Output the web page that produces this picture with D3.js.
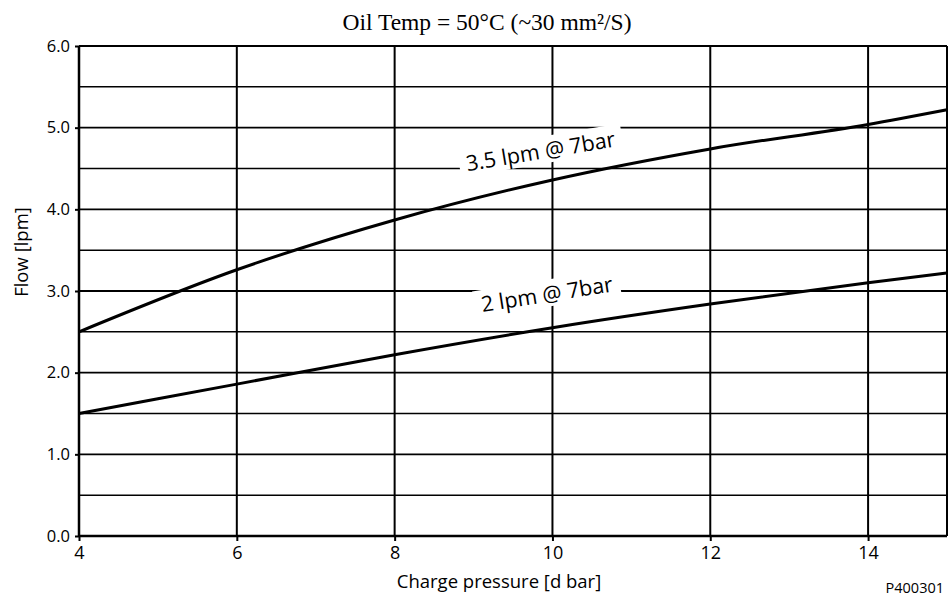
<!DOCTYPE html>
<html>
<head>
<meta charset="utf-8">
<script src="https://cdn.jsdelivr.net/npm/d3@7"></script>
<style>
  body { margin: 0; background: #fff; }
  text { fill: #000; }
</style>
</head>
<body>
<svg></svg>
<script>
// charge pressure [d bar]
let pressure = [4, 6, 8, 10, 12, 14, 15];
// flow [lpm] for the two orifice sizes
let flowHigh = [2.5, 3.26, 3.87, 4.36, 4.74, 5.04, 5.22];
let flowLow = [1.5, 1.86, 2.22, 2.55, 2.84, 3.10, 3.22];

let xTicks = [4, 6, 8, 10, 12, 14];
let yTicks = [0, 1, 2, 3, 4, 5, 6];
let yMinor = [0.5, 1.5, 2.5, 3.5, 4.5, 5.5];

let curveLabels = [
  {text: "3.5 lpm @ 7bar", x: 9.85, y: 4.71, angle: -9.5},
  {text: "2 lpm @ 7bar", x: 9.93, y: 2.96, angle: -9}
];

let margin = {top: 46, right: 3, bottom: 60, left: 79};
let width = 950 - margin.left - margin.right;
let height = 596 - margin.top - margin.bottom;

let svg = d3.select("svg")
  .attr("width", 950)
  .attr("height", 596);

let g = svg.append("g")
  .attr("transform", `translate(${margin.left}, ${margin.top})`);

let xScale = d3.scaleLinear().domain([4, 15]).range([0, width]);
let yScale = d3.scaleLinear().domain([0, 6]).range([height, 0]);

// horizontal grid
g.selectAll(".hgrid")
  .data(yTicks.concat(yMinor))
  .join("line")
  .attr("x1", 0).attr("x2", width)
  .attr("y1", d => yScale(d)).attr("y2", d => yScale(d))
  .attr("stroke", "#000")
  .attr("stroke-width", d => d % 1 === 0 ? 1.8 : 1.5);

// vertical grid
g.selectAll(".vgrid")
  .data(xTicks.concat([15]))
  .join("line")
  .attr("x1", d => xScale(d)).attr("x2", d => xScale(d))
  .attr("y1", 0).attr("y2", height)
  .attr("stroke", "#000")
  .attr("stroke-width", 2);

// axes
let xAxis = d3.axisBottom(xScale).tickValues(xTicks).tickFormat(d3.format("d")).tickSize(5);
let yAxis = d3.axisLeft(yScale).tickValues(yTicks).tickFormat(d3.format(".1f")).tickSize(4);

let gx = g.append("g")
  .attr("transform", `translate(0, ${height})`)
  .call(xAxis);
let gy = g.append("g").call(yAxis);

[gx, gy].forEach(a => {
  a.select(".domain").remove();
  a.selectAll(".tick line").attr("stroke", "#000").attr("stroke-width", 2);
  a.selectAll(".tick text")
    .attr("font-family", "Open Sans")
    .attr("fill", "#000");
});
gx.selectAll(".tick text").attr("font-size", 18).attr("dy", 0).attr("y", 23);
gy.selectAll(".tick text").attr("font-size", 16.5).attr("x", -9);

// axis lines
g.append("line")
  .attr("x1", 0).attr("x2", 0).attr("y1", 0).attr("y2", height)
  .attr("stroke", "#000").attr("stroke-width", 2.5);
g.append("line")
  .attr("x1", 0).attr("x2", width).attr("y1", height).attr("y2", height)
  .attr("stroke", "#000").attr("stroke-width", 2.5);

// curves
let line = d3.line()
  .x(d => xScale(d[0]))
  .y(d => yScale(d[1]))
  .curve(d3.curveMonotoneX);

[flowHigh, flowLow].forEach(series => {
  g.append("path")
    .datum(pressure.map((p, i) => [p, series[i]]))
    .attr("d", line)
    .attr("fill", "none")
    .attr("stroke", "#000")
    .attr("stroke-width", 3);
});

// curve labels with white box behind
curveLabels.forEach(l => {
  let lg = g.append("g")
    .attr("transform", `translate(${xScale(l.x)}, ${yScale(l.y)}) rotate(${l.angle})`);
  let t = lg.append("text")
    .attr("text-anchor", "middle")
    .attr("dy", "0.35em")
    .attr("font-family", "Open Sans")
    .attr("font-size", 21.5)
    .text(l.text);
  let bb = t.node().getBBox();
  lg.insert("rect", "text")
    .attr("x", bb.x - 7).attr("y", bb.y + 1)
    .attr("width", bb.width + 14).attr("height", bb.height - 2)
    .attr("fill", "#fff");
});

// title
svg.append("text")
  .attr("x", 487).attr("y", 30)
  .attr("text-anchor", "middle")
  .attr("font-family", "Liberation Serif")
  .attr("font-size", 23.5)
  .text("Oil Temp = 50°C (~30 mm²/S)");

// axis titles
svg.append("text")
  .attr("x", 499).attr("y", 588)
  .attr("text-anchor", "middle")
  .attr("font-family", "Open Sans")
  .attr("font-size", 18.5)
  .text("Charge pressure [d bar]");

svg.append("text")
  .attr("transform", "translate(28, 252) rotate(-90)")
  .attr("text-anchor", "middle")
  .attr("font-family", "Open Sans")
  .attr("font-size", 18.5)
  .text("Flow [lpm]");

svg.append("text")
  .attr("x", 944).attr("y", 593)
  .attr("text-anchor", "end")
  .attr("font-family", "Open Sans")
  .attr("font-size", 14.5)
  .text("P400301");
</script>
</body>
</html>
